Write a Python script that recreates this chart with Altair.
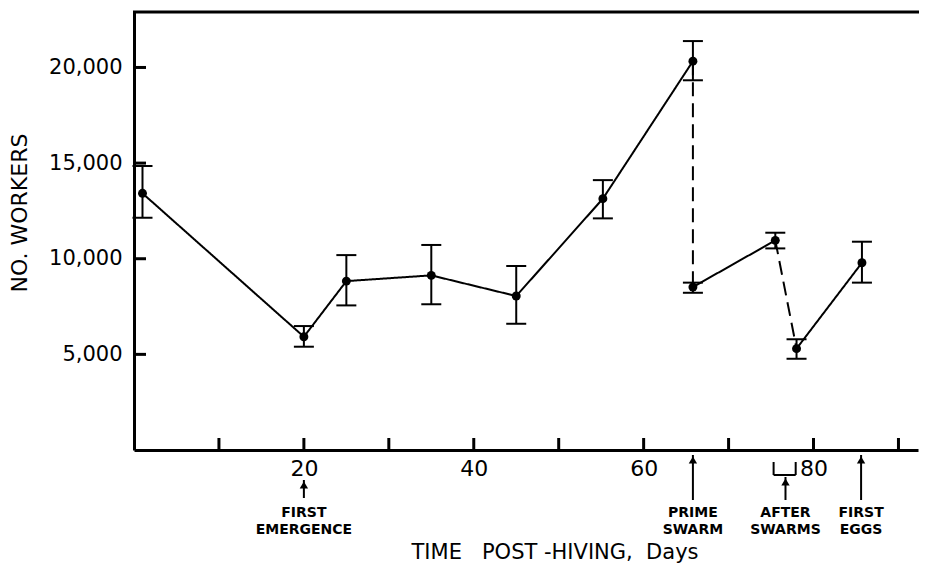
import altair as alt
import pandas as pd

# ---- data ----
days = [1, 20, 25, 35, 45, 55.2, 65.8, 65.8, 75.5, 78.0, 85.7]
workers = [13420, 5920, 8830, 9130, 8050, 13140, 20330, 8520, 10960, 5300, 9790]
err_low = [12140, 5400, 7560, 7620, 6600, 12110, 19330, 8220, 10540, 4770, 8750]
err_high = [14850, 6480, 10190, 10720, 9620, 14110, 21380, 8750, 11360, 5790, 10890]

# segments: (point indices, style)
segments = [
    ([0, 1, 2, 3, 4, 5, 6], "solid"),
    ([6, 7], "dashed"),
    ([7, 8], "solid"),
    ([8, 9], "dashed"),
    ([9, 10], "solid"),
]

y_tick_values = [5000, 10000, 15000, 20000]
x_label_values = [20, 40, 60, 80]
x_tick_values = [10, 20, 30, 40, 50, 60, 70, 80, 90]

event_days = [20, 65.8, 76.7, 85.6]
event_line1 = ["FIRST", "PRIME", "AFTER", "FIRST"]
event_line2 = ["EMERGENCE", "SWARM", "SWARMS", "EGGS"]
arrow_tip = [468, 443, 465, 443]
arrow_end = [486, 488, 488, 488]
bracket_days = [75.3, 77.9]

W, H = 784, 438
FONT = "DejaVu Sans"

pts = pd.DataFrame({"day": days, "n": workers, "lo": err_low, "hi": err_high})
seg_rows = []
for k, (idx, style) in enumerate(segments):
    for i in idx:
        seg_rows.append({"seg": k, "style": style, "day": days[i], "n": workers[i], "order": i})
segdf = pd.DataFrame(seg_rows)

xs = alt.Scale(domain=[0, 92.3], nice=False, zero=False)
ys = alt.Scale(domain=[0, 22900], nice=False, zero=False)

x_axis = alt.Axis(values=x_label_values, ticks=False, grid=False, title=None,
                  domainWidth=3, domainColor="black", labelFont=FONT, labelFontSize=22,
                  labelColor="black", labelPadding=8, format="d")
y_axis = alt.Axis(values=y_tick_values, ticks=False, grid=False, title=None, format=",d",
                  domainWidth=3, domainColor="black", labelFont=FONT, labelFontSize=21,
                  labelColor="black", labelPadding=12)

X = lambda f: alt.X(f, scale=xs, axis=x_axis)
Y = lambda f: alt.Y(f, scale=ys, axis=y_axis)

lines = alt.Chart(segdf).mark_line(color="black", strokeWidth=2).encode(
    x=X("day:Q"),
    y=Y("n:Q"),
    detail="seg:N",
    order="order:Q",
    strokeDash=alt.StrokeDash("style:N", scale=alt.Scale(domain=["solid", "dashed"],
                                                         range=[[1, 0], [14, 7]]), legend=None),
)

bars = alt.Chart(pts).mark_rule(color="black", strokeWidth=2).encode(
    x=X("day:Q"), y=Y("lo:Q"), y2="hi:Q")
cap_lo = alt.Chart(pts).mark_tick(color="black", opacity=1, thickness=2, size=20,
                                  orient="horizontal").encode(x=X("day:Q"), y=Y("lo:Q"))
cap_hi = alt.Chart(pts).mark_tick(color="black", opacity=1, thickness=2, size=20,
                                  orient="horizontal").encode(x=X("day:Q"), y=Y("hi:Q"))
dots = alt.Chart(pts).mark_circle(color="black", opacity=1, size=80).encode(
    x=X("day:Q"), y=Y("n:Q"))

# inward ticks
ytk = alt.Chart(pd.DataFrame({"v": y_tick_values})).mark_rule(color="black", strokeWidth=3).encode(
    y=Y("v:Q"), x=alt.value(0), x2=alt.value(12))
xtk = alt.Chart(pd.DataFrame({"v": x_tick_values})).mark_rule(color="black", strokeWidth=3).encode(
    x=X("v:Q"), y=alt.value(H), y2=alt.value(H - 12))
top = alt.Chart(pd.DataFrame({"a": [0]})).mark_rule(color="black", strokeWidth=3).encode(
    x=alt.value(-1), x2=alt.value(W + 1), y=alt.value(0))

ev = pd.DataFrame({"day": event_days, "l1": event_line1, "l2": event_line2,
                   "tip": arrow_tip, "end": arrow_end})
ev["tip_head"] = ev["tip"] + 5
shaft = alt.Chart(ev).mark_rule(color="black", strokeWidth=2).encode(
    x=X("day:Q"), y=alt.Y("tip:Q", scale=None, axis=None), y2="end:Q")
head = alt.Chart(ev).mark_point(shape="triangle-up", filled=True, color="black", opacity=1,
                                size=70).encode(
    x=X("day:Q"), y=alt.Y("tip_head:Q", scale=None, axis=None))
t1 = alt.Chart(ev).mark_text(font=FONT, fontSize=14, fontWeight="bold", color="black").encode(
    x=X("day:Q"), y=alt.value(501), text="l1:N")
t2 = alt.Chart(ev).mark_text(font=FONT, fontSize=14, fontWeight="bold", color="black").encode(
    x=X("day:Q"), y=alt.value(518), text="l2:N")

br = pd.DataFrame({"a": [bracket_days[0]], "b": [bracket_days[1]]})
br_h = alt.Chart(br).mark_rule(color="black", strokeWidth=2).encode(
    x=X("a:Q"), x2="b:Q", y=alt.value(463))
br_l = alt.Chart(br).mark_rule(color="black", strokeWidth=2).encode(
    x=X("a:Q"), y=alt.value(450), y2=alt.value(463))
br_r = alt.Chart(br).mark_rule(color="black", strokeWidth=2).encode(
    x=X("b:Q"), y=alt.value(450), y2=alt.value(463))

NB = "\u00a0"
xtitle = alt.Chart(pd.DataFrame({"t": [f"TIME{NB}{NB}{NB}POST{NB}-HIVING,{NB}{NB}Days"]})).mark_text(
    font=FONT, fontSize=21, color="black").encode(x=alt.value(421), y=alt.value(541), text="t:N")
ytitle = alt.Chart(pd.DataFrame({"t": ["NO. WORKERS"]})).mark_text(
    font=FONT, fontSize=22, color="black", angle=270, baseline="middle").encode(
    x=alt.value(-114), y=alt.value(201), text="t:N")

chart = alt.layer(lines, bars, cap_lo, cap_hi, dots, ytk, xtk, top,
                  shaft, head, t1, t2, br_h, br_l, br_r, xtitle, ytitle).properties(
    width=W, height=H,
    background="white",
    autosize=alt.AutoSizeParams(type="none"),
    padding={"left": 126, "top": 4, "right": 1, "bottom": 114},
).configure_view(strokeWidth=0, stroke="transparent")

chart.save("out.html", embed_options={"renderer": "svg", "actions": False})
